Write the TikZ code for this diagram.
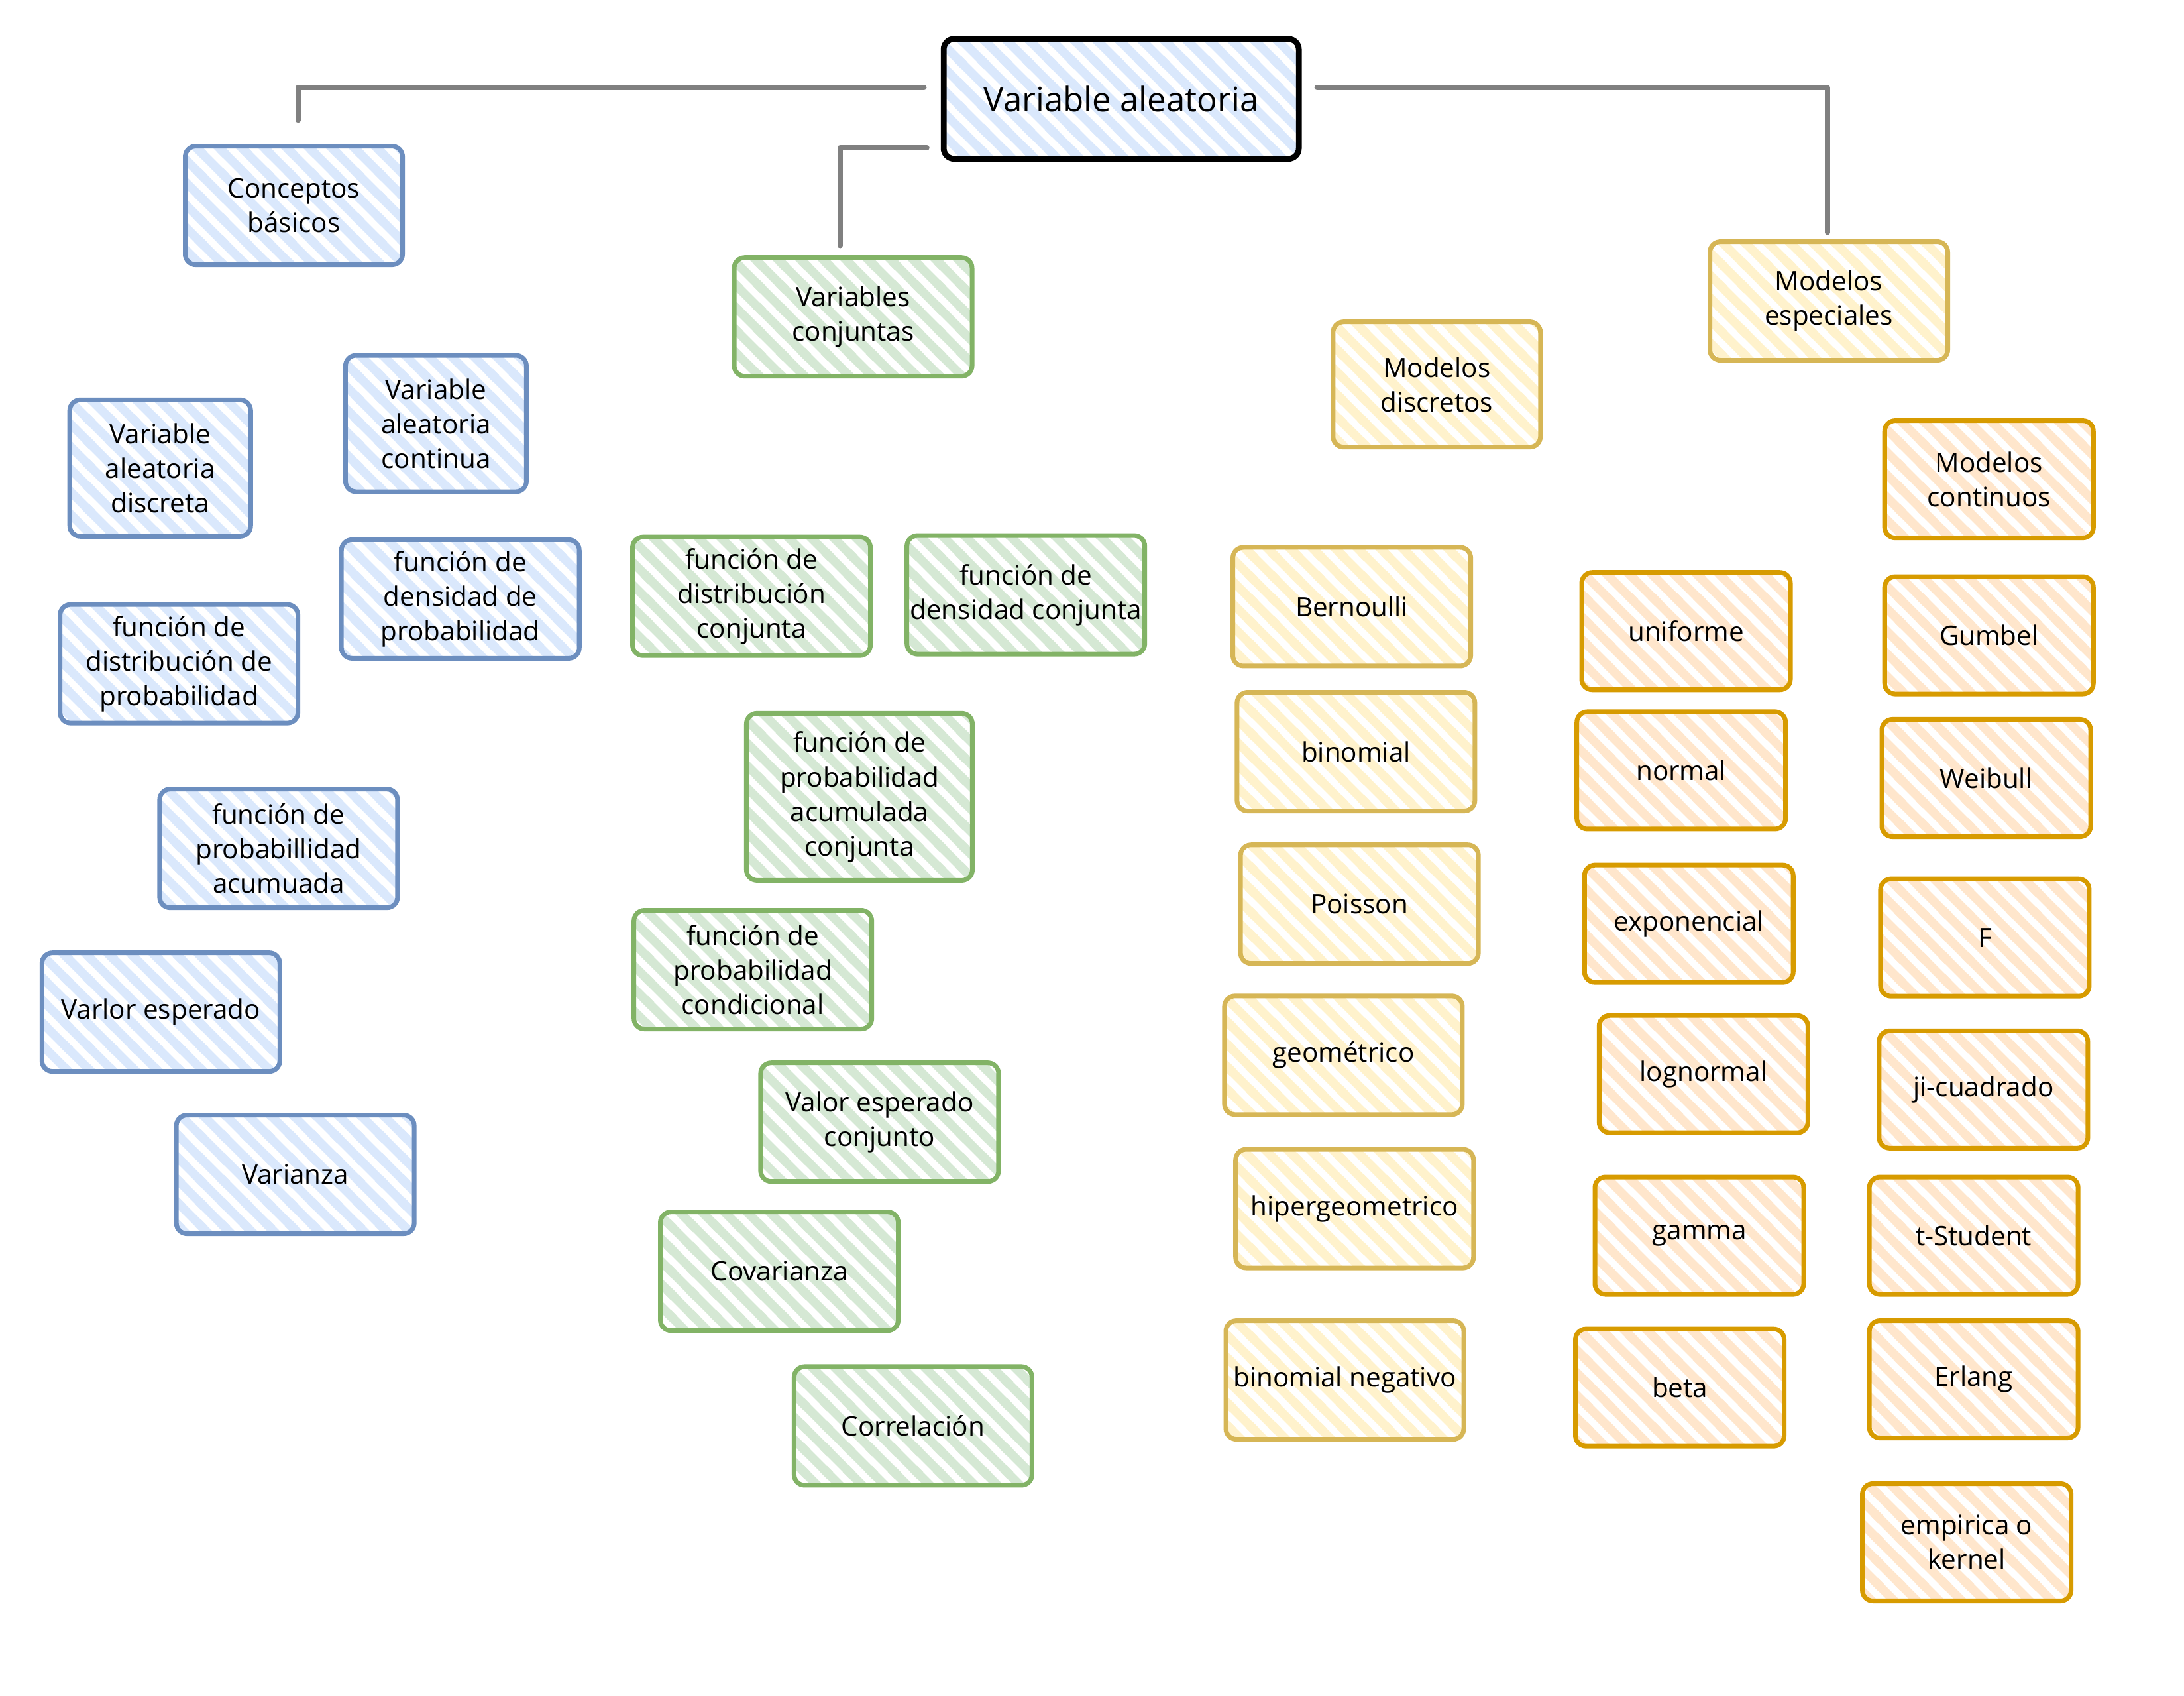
\documentclass[tikz,border=0pt]{standalone}
\usepackage{fontspec}
\setmainfont{Open Sans}
\usetikzlibrary{patterns}
\usetikzlibrary{calc}
\definecolor{bluefill}{HTML}{DAE8FC}
\definecolor{bluedraw}{HTML}{6C8EBF}
\definecolor{greenfill}{HTML}{D5E8D4}
\definecolor{greendraw}{HTML}{82B366}
\definecolor{yellowfill}{HTML}{FFF2CC}
\definecolor{yellowdraw}{HTML}{D6B656}
\definecolor{orangefill}{HTML}{FFE6CC}
\definecolor{orangedraw}{HTML}{D79B00}
\definecolor{linkgray}{HTML}{808080}
\pgfdeclarepatternformonly{hatch}{\pgfqpoint{0pt}{0pt}}{\pgfqpoint{9.6pt}{9.6pt}}{\pgfqpoint{9.6pt}{9.6pt}}{%
  \pgfsetlinewidth{3.8pt}%
  \pgfpathmoveto{\pgfqpoint{-3pt}{3pt}}\pgfpathlineto{\pgfqpoint{3pt}{-3pt}}%
  \pgfpathmoveto{\pgfqpoint{-2pt}{11.6pt}}\pgfpathlineto{\pgfqpoint{11.6pt}{-2pt}}%
  \pgfpathmoveto{\pgfqpoint{6.6pt}{12.6pt}}\pgfpathlineto{\pgfqpoint{12.6pt}{6.6pt}}%
  \pgfusepath{stroke}}
\begin{document}
\begin{tikzpicture}[line cap=round,line join=round, x=0.2102mm, y=-0.2102mm,
  box/.style={rounded corners=1.6mm, line width=2pt, align=center, inner sep=0pt,
    font=\fontsize{11.5}{14.8}\selectfont, pattern=hatch,
    minimum width=35.9mm, minimum height=17.9mm},
  bluebox/.style={box, draw=bluedraw, pattern color=bluefill},
  greenbox/.style={box, draw=greendraw, pattern color=greenfill},
  yellowbox/.style={box, draw=yellowdraw, pattern color=yellowfill},
  orangebox/.style={box, draw=orangedraw, pattern color=orangefill,
    minimum width=31.5mm, minimum height=17.7mm},
  rootbox/.style={box, draw=black, line width=2.5pt, pattern color=bluefill,
    font=\fontsize{14.5}{18}\selectfont, minimum width=53.6mm, minimum height=18.1mm},
  tallbox/.style={minimum width=27.3mm, minimum height=20.6mm},
  link/.style={draw=linkgray, line width=2.3pt}]
\useasboundingbox (0,0) rectangle (1568,1217);
\node[rootbox] (root) at (805,71) {Variable aleatoria};
\node[bluebox, minimum width=32.8mm] (conceptos) at (211,147.5) {Conceptos\\básicos};
\node[bluebox, tallbox] (vacont) at (313,304) {Variable\\aleatoria\\continua};
\node[bluebox, tallbox] (vadisc) at (115,336) {Variable\\aleatoria\\discreta};
\node[bluebox] (fdensprob) at (330.5,430) {función de\\densidad de\\probabilidad};
\node[bluebox] (fdistprob) at (128.5,476.5) {función de\\distribución de\\probabilidad};
\node[bluebox] (fprobacum) at (200,609) {función de\\probabillidad\\acumuada};
\node[bluebox] (esperado) at (115.5,726.5) {Varlor esperado};
\node[bluebox] (varianza) at (212,843) {Varianza};
\node[greenbox] (varconj) at (612.5,227.5) {Variables\\conjuntas};
\node[greenbox] (fdistconj) at (539.5,428) {función de\\distribución\\conjunta};
\node[greenbox] (fdensconj) at (736.5,427) {función de\\densidad conjunta};
\node[greenbox, minimum width=34.1mm, minimum height=25.2mm] (facumconj) at (617,572) {función de\\probabilidad\\acumulada\\conjunta};
\node[greenbox] (fcondic) at (540.5,696) {función de\\probabilidad\\condicional};
\node[greenbox] (espconj) at (631.5,805.5) {Valor esperado\\conjunto};
\node[greenbox] (covarianza) at (559.5,912.5) {Covarianza};
\node[greenbox] (correlacion) at (655.5,1023.5) {Correlación};
\node[yellowbox, minimum width=31.3mm, minimum height=18.9mm] (discretos) at (1031.5,276) {Modelos\\discretos};
\node[yellowbox] (especiales) at (1313,216) {Modelos\\especiales};
\node[yellowbox] (bernoulli) at (970.5,435.5) {Bernoulli};
\node[yellowbox] (binomial) at (973.5,539.5) {binomial};
\node[yellowbox] (poisson) at (976,649) {Poisson};
\node[yellowbox] (geometrico) at (964.5,757.5) {geométrico};
\node[yellowbox] (hipergeo) at (972.5,867.5) {hipergeometrico};
\node[yellowbox] (binneg) at (965.5,990.5) {binomial negativo};
\node[orangebox] (continuos) at (1428,344) {Modelos\\continuos};
\node[orangebox] (uniforme) at (1210.5,453) {uniforme};
\node[orangebox] (normal) at (1207,553) {normal};
\node[orangebox] (exponencial) at (1212.5,663) {exponencial};
\node[orangebox] (lognormal) at (1223,771) {lognormal};
\node[orangebox] (gamma) at (1220,887) {gamma};
\node[orangebox] (beta) at (1206,996) {beta};
\node[orangebox] (gumbel) at (1428,456) {Gumbel};
\node[orangebox] (weibull) at (1426,558.5) {Weibull};
\node[orangebox] (fsnedecor) at (1425,673) {F};
\node[orangebox] (jicuad) at (1424,782) {ji-cuadrado};
\node[orangebox] (tstudent) at (1417,887) {t-Student};
\node[orangebox] (erlang) at (1417,990) {Erlang};
\node[orangebox] (kernel) at (1412,1107) {empirica o\\kernel};
\draw[link] ($(root.west)+(-12,-8)$) -| ($(conceptos.north)+(3,-17)$);
\draw[link] ($(root.west)+(-10,35)$) -| ($(varconj.north)+(-9.5,-7)$);
\draw[link] ($(root.east)+(11,-8)$) -| ($(especiales.north)+(-1,-5)$);
\end{tikzpicture}
\end{document}
